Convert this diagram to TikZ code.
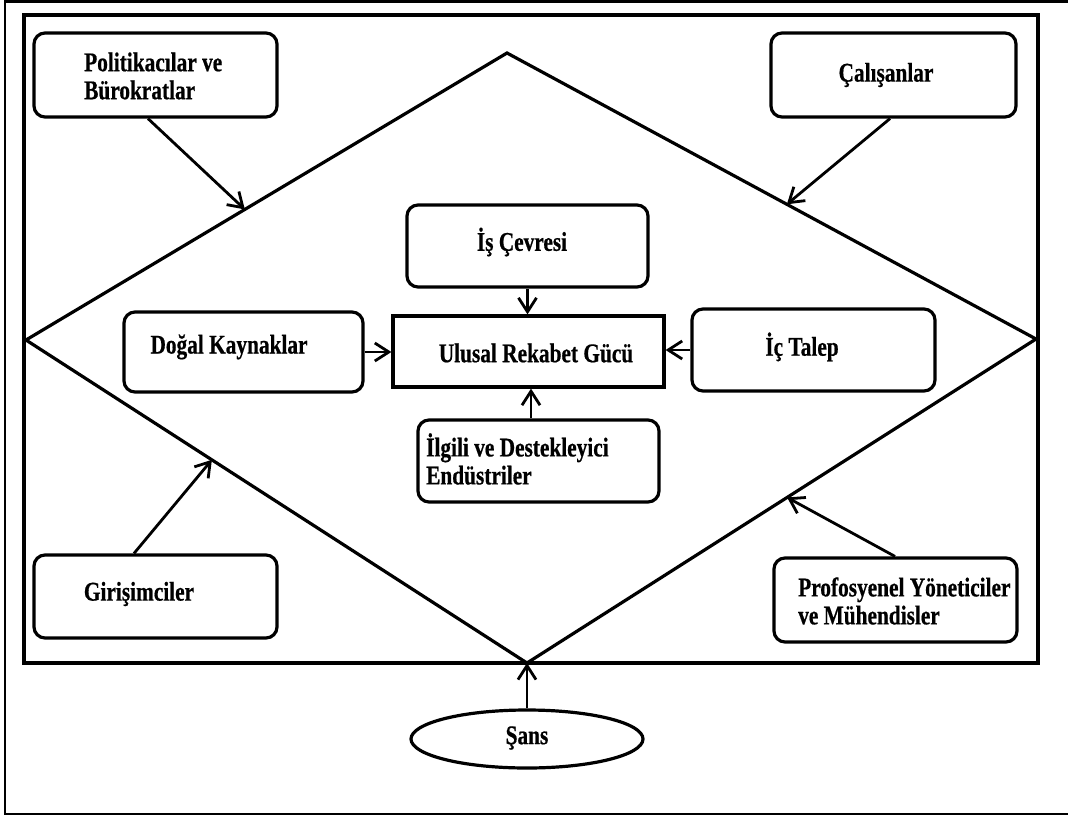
\documentclass[tikz,border=0pt]{standalone}
\usepackage{fontspec}
\setmainfont{Liberation Serif}[FakeStretch=0.79,BoldFeatures={FakeBold=0.6}]
\usetikzlibrary{arrows.meta,shapes.geometric,calc}
\begin{document}
\begin{tikzpicture}[x=1pt,y=-1pt,
  every node/.style={font=\fontsize{27}{28}\selectfont\bfseries, inner sep=0pt},
  rbox/.style={draw, line width=3.2pt, rounded corners=11pt},
  sbox/.style={draw, line width=3.2pt},
  frame/.style={line width=3.2pt},
  arr/.style={line width=2.8pt, -{Straight Barb[length=14pt,width=18pt,line width=2.8pt]}},
  txt/.style={align=left}]
\useasboundingbox (0,0) rectangle (1068,817);
% outer frame (right side lies off the picture)
\draw[line width=2.2pt] (1075,1.5) -- (5,1.5) -- (5,814) -- (1075,814);
% inner rectangle
\draw[frame] (24,15) rectangle (1038,663);
% diamond
\coordinate (T) at (507,53);
\coordinate (R) at (1036,339);
\coordinate (B) at (527,663);
\coordinate (L) at (26,340);
\draw[frame, line join=miter] (T) -- (R) -- (B) -- (L) -- cycle;
% boxes
\node[rbox, minimum width=243pt, minimum height=84pt] (pol) at (155.5,75) {};
\node[txt, anchor=west] (polt) at (84,76) {Politikacılar ve\\Bürokratlar};
\node[rbox, minimum width=245pt, minimum height=84pt] (cal) at (893.5,75) {};
\node (calt) at (886,75) {Çalışanlar};
\node[rbox, minimum width=241pt, minimum height=82pt] (is) at (527.5,246) {};
\node (ist) at (522,242) {İş Çevresi};
\node[rbox, minimum width=239pt, minimum height=80pt] (dog) at (243.5,352) {};
\node (dogt) at (229,347) {Doğal Kaynaklar};
\node[sbox, minimum width=271pt, minimum height=71pt] (ulu) at (528.5,351.5) {};
\node (ulut) at (536,353) {Ulusal Rekabet Gücü};
\node[rbox, minimum width=243pt, minimum height=82pt] (ic) at (813.5,350) {};
\node (ict) at (802,347) {İç Talep};
\node[rbox, minimum width=241pt, minimum height=82pt] (ilg) at (538.5,461) {};
\node[txt, anchor=west] (ilgt) at (426,459) {İlgili ve Destekleyici\\Endüstriler};
\node[rbox, minimum width=243pt, minimum height=83pt] (gir) at (155.5,596.5) {};
\node (girt) at (139,594) {Girişimciler};
\node[rbox, minimum width=243pt, minimum height=84pt] (pro) at (895.5,600) {};
\node[txt, anchor=west] (prot) at (798,601) {Profosyenel Yöneticiler\\ve Mühendisler};
\node[draw, ellipse, line width=3.2pt, minimum width=232pt, minimum height=58pt] (sans) at (527,739) {};
\node (sanst) at (527,738) {Şans};
% connectors
\draw[arr] ($(pol.south)+(-7.5,0)$) -- ($(L)!0.455!(T)$);
\draw[arr] ($(cal.south)+(-3.5,0)$) -- ($(T)!0.529!(R)$);
\draw[arr] ($(gir.north)+(-21.5,0)$) -- ($(L)!0.371!(B)$);
\draw[arr] ($(pro.north)+(-0.5,0)$) -- ($(R)!0.489!(B)$);
\draw[arr] (is.south) -- (is.south |- ulu.north);
\draw[arr] ($(ilg.north)+(-7.5,0)$) -- ($(ulu.south)+(2.5,0)$);
\draw[arr] (dog.east) -- (dog.east -| ulu.west);
\draw[arr] (ic.west) -- (ic.west -| ulu.east);
\draw[arr] (sans.north) -- (B);
\end{tikzpicture}
\end{document}
